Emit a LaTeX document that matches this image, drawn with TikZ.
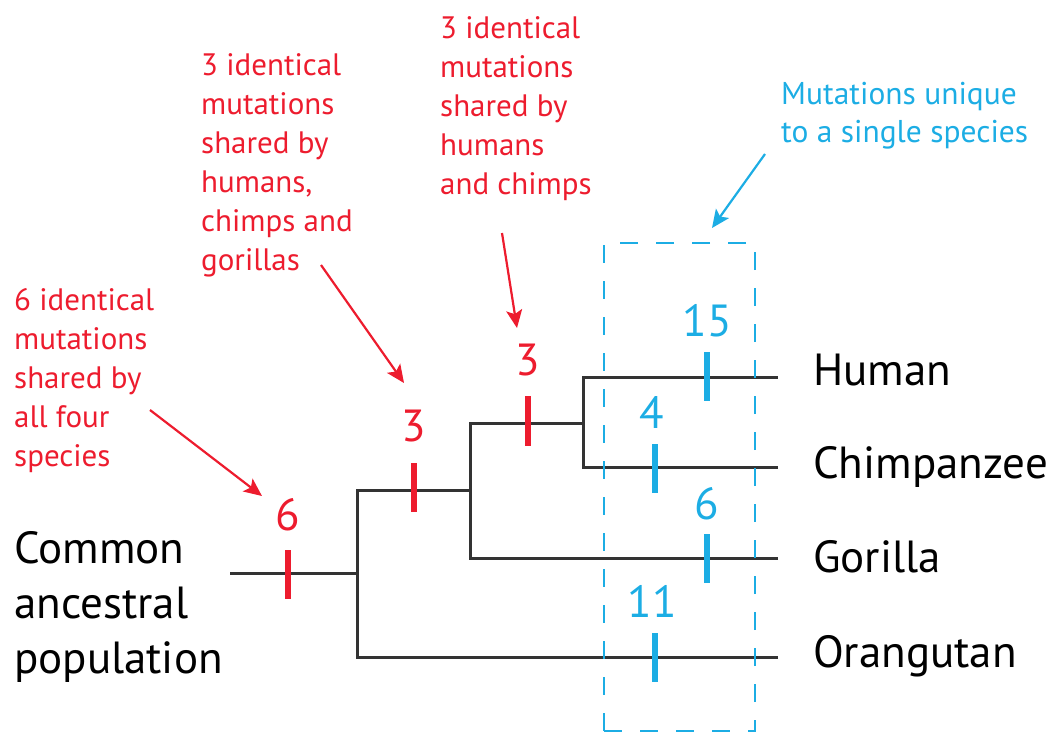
\documentclass[tikz,border=0pt]{standalone}
\usepackage{fontspec}
\setmainfont{PT Sans}
\usetikzlibrary{arrows.meta}
\definecolor{myred}{HTML}{ED1C2E}
\definecolor{myblue}{HTML}{1CADE4}
\definecolor{linegray}{HTML}{333333}
\begin{document}
\begin{tikzpicture}[x=1pt,y=-1pt,
  branch/.style={draw=linegray,line width=3pt},
  redtick/.style={draw=myred,line width=6pt},
  bluetick/.style={draw=myblue,line width=6pt},
  rednote/.style={text=myred,font=\fontsize{31}{39}\selectfont,align=left,anchor=base west,inner sep=0pt},
  bluenote/.style={text=myblue,font=\fontsize{31.5}{38}\selectfont,align=left,anchor=base west,inner sep=0pt},
  rednum/.style={text=myred,font=\fontsize{45}{45}\selectfont,anchor=base,inner sep=0pt},
  bluenum/.style={text=myblue,font=\fontsize{45}{45}\selectfont,anchor=base,inner sep=0pt},
  species/.style={font=\fontsize{45}{55}\selectfont,anchor=base west,inner sep=0pt,align=left},
  redarrow/.style={draw=myred,line width=2.2pt,-{Stealth[length=18pt,width=16pt,inset=4pt]}},
  bluearrow/.style={draw=myblue,line width=2.2pt,-{Stealth[length=18pt,width=16pt,inset=4pt]}},
  dashbox/.style={draw=myblue,line width=2.5pt,dash pattern=on 18pt off 18pt,inner sep=0pt}
]
\useasboundingbox (0,0) rectangle (1056,734);

% tree coordinates
\coordinate (root) at (230,573);
\coordinate (n1) at (357,573);
\coordinate (n1t) at (357,490);
\coordinate (n2) at (470,490);
\coordinate (n2t) at (470,423);
\coordinate (n3) at (583,423);
\coordinate (n3t) at (583,377);
\coordinate (ehum) at (778,377);
\coordinate (echi) at (778,467);
\coordinate (egor) at (778,558);
\coordinate (eora) at (778,657);

% branches
\draw[branch] (root) -- (n1);
\draw[branch] (eora) -| (n1t) -- (n2);
\draw[branch] (egor) -| (n2t) -- (n3);
\draw[branch] (echi) -| (n3t) -- (ehum);

% ticks
\draw[redtick] (288,550) -- (288,599);
\draw[redtick] (414,463) -- (414,512);
\draw[redtick] (528,396) -- (528,446);
\draw[bluetick] (707,352) -- (707,401);
\draw[bluetick] (655,444) -- (655,493);
\draw[bluetick] (707,534) -- (707,583);
\draw[bluetick] (655,633) -- (655,682);

% numbers
\node[rednum] (k1) at (288,530) {6};
\node[rednum] (k2) at (414,441) {3};
\node[rednum] (k3) at (528,375) {3};
\node[bluenum] (u1) at (707,336) {15};
\node[bluenum] (u2) at (652,428) {4};
\node[bluenum] (u3) at (707,519) {6};
\node[bluenum] (u4) at (652,617) {11};

% species labels
\node[species] (human) at (813,385) {Human};
\node[species] (chimp) at (813,478) {Chimpanzee};
\node[species] (gorilla) at (813,572) {Gorilla};
\node[species] (orang) at (813,667) {Orangutan};
\node[species] (common) at (14,673) {Common\\ancestral\\population};

% dashed box
\node[dashbox,minimum width=151pt,minimum height=488pt] (ubox) at (679.5,487) {};

% notes (base anchor = baseline of last line)
\node[rednote] (note1) at (14,466) {6 identical\\mutations\\shared by\\all four\\species};
\node[rednote] (note2) at (201,270) {3 identical\\mutations\\shared by\\humans,\\chimps and\\gorillas};
\node[rednote] (note3) at (440,194) {3 identical\\mutations\\shared by\\humans\\and chimps};
\node[bluenote] (note4) at (781,142) {Mutations unique\\to a single species};

% arrows
\coordinate (a1s) at (150,410);
\coordinate (a1e) at (262,496);
\coordinate (a2s) at (321,265);
\coordinate (a2e) at (404,383);
\coordinate (a3s) at (502,233);
\coordinate (a3e) at (517,328);
\coordinate (a4s) at (765,154);
\coordinate (a4e) at (712,228);
\draw[redarrow] (a1s) -- (a1e);
\draw[redarrow] (a2s) -- (a2e);
\draw[redarrow] (a3s) -- (a3e);
\draw[bluearrow] (a4s) -- (a4e);
\end{tikzpicture}
\end{document}
